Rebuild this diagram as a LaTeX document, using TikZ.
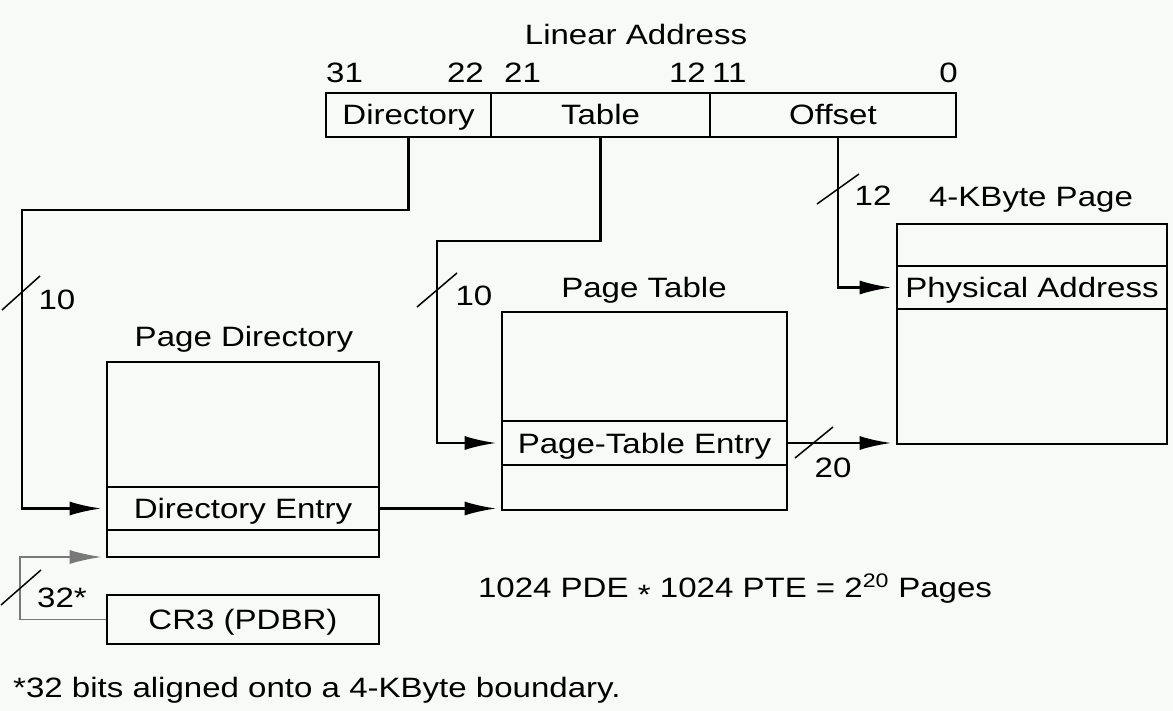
\documentclass[tikz,border=0pt]{standalone}
\usepackage{fontspec}
\setmainfont{Liberation Sans}[FakeStretch=1.18]
\usetikzlibrary{arrows.meta}
\definecolor{bg}{RGB}{248,250,248}
\definecolor{thin}{RGB}{120,120,120}
\begin{document}
\begin{tikzpicture}[x=1pt,y=-1pt,
  font=\fontsize{28}{32}\selectfont,
  cell/.style={draw, line width=2.8pt, inner sep=0pt, text height=20pt, text depth=0pt},
  lbl/.style={inner sep=0pt, text height=20pt, text depth=0pt},
  conn/.style={line width=2.8pt, -{Latex[length=32pt,width=14pt]}, shorten >=4pt},
  slash/.style={line width=1.5pt},
  ]
\fill[bg] (0,0) rectangle (1173,711);
\useasboundingbox (0,0) rectangle (1173,711);

% linear address
\node[lbl] (latitle) at (636,35) {Linear Address};
\node[lbl, anchor=west] (b31) at (326,73) {31};
\node[lbl, anchor=east] (b22) at (484,73) {22};
\node[lbl, anchor=west] (b21) at (504,73) {21};
\node[lbl, anchor=east] (b12) at (706,73) {12};
\node[lbl, anchor=west] (b11) at (712,73) {11};
\node[lbl, anchor=east] (b0) at (958,73) {0};
\node[cell, minimum width=165pt, minimum height=44pt] (dir) at (408.5,115) {Directory};
\node[cell, minimum width=219pt, minimum height=44pt] (tab) at (600.5,115) {Table};
\node[cell, minimum width=246pt, minimum height=44pt] (off) at (833,115) {Offset};

% page directory
\node[lbl] (pdtitle) at (244,337) {Page Directory};
\node[cell, minimum width=272pt, minimum height=125pt] (pdtop) at (243,424.5) {};
\node[cell, minimum width=272pt, minimum height=43pt] (pde) at (243,508.5) {Directory Entry};
\node[cell, minimum width=272pt, minimum height=27pt] (pdbot) at (243,543.5) {};
\node[cell, minimum width=272pt, minimum height=49pt] (cr3) at (243,619.5) {CR3 (PDBR)};

% page table
\node[lbl] (pttitle) at (644,288) {Page Table};
\node[cell, minimum width=285pt, minimum height=109pt] (pttop) at (644.5,366.5) {};
\node[cell, minimum width=285pt, minimum height=44pt] (pte) at (644.5,443) {Page-Table Entry};
\node[cell, minimum width=285pt, minimum height=45pt] (ptbot) at (644.5,487.5) {};

% 4-KByte page
\node[lbl] (pgtitle) at (1031,197) {4-KByte Page};
\node[cell, minimum width=270pt, minimum height=42pt] (pgtop) at (1032,245) {};
\node[cell, minimum width=270pt, minimum height=43pt] (pa) at (1032,287.5) {Physical Address};
\node[cell, minimum width=270pt, minimum height=135pt] (pgbot) at (1032,376.5) {};

% connectors
\coordinate (c1) at (22,210);
\coordinate (c2) at (437,241);
\coordinate (c3) at (20,557);
\draw[conn] (dir.south) -- (dir.south |- c1) -- (c1) |- (pde.west);
\draw[conn] (tab.south) -- (tab.south |- c2) -- (c2) |- (pte.west);
\draw[conn] ([xshift=5pt]off.south) |- (pa.west);
\draw[conn] (pde.east) -- (pde.east -| ptbot.west);
\draw[conn] (pte.east) -- (pte.east -| pgbot.west);
\draw[conn, line width=1.8pt, draw=thin] (cr3.west) -| (c3) -- (c3 -| pdbot.west);

% bus-width marks
\draw[slash] (2,310) -- (40,276);
\node[lbl] (w10a) at (57,300) {10};
\draw[slash] (417,307) -- (457,273);
\node[lbl] (w10b) at (474,296) {10};
\draw[slash] (817,204) -- (859,174);
\node[lbl] (w12) at (873,196) {12};
\draw[slash] (795,458) -- (833,427);
\node[lbl] (w20) at (833,467) {20};
\draw[slash] (1,605) -- (41,570);
\node[lbl] (w32) at (62,597) {32*};

% notes
\node[lbl] (formula) at (735,587) {1024 PDE \raisebox{-0.28em}{*} 1024 PTE = 2\textsuperscript{20} Pages};
\node[lbl, anchor=west] (foot) at (13,687) {*32 bits aligned onto a 4-KByte boundary.};
\end{tikzpicture}
\end{document}
